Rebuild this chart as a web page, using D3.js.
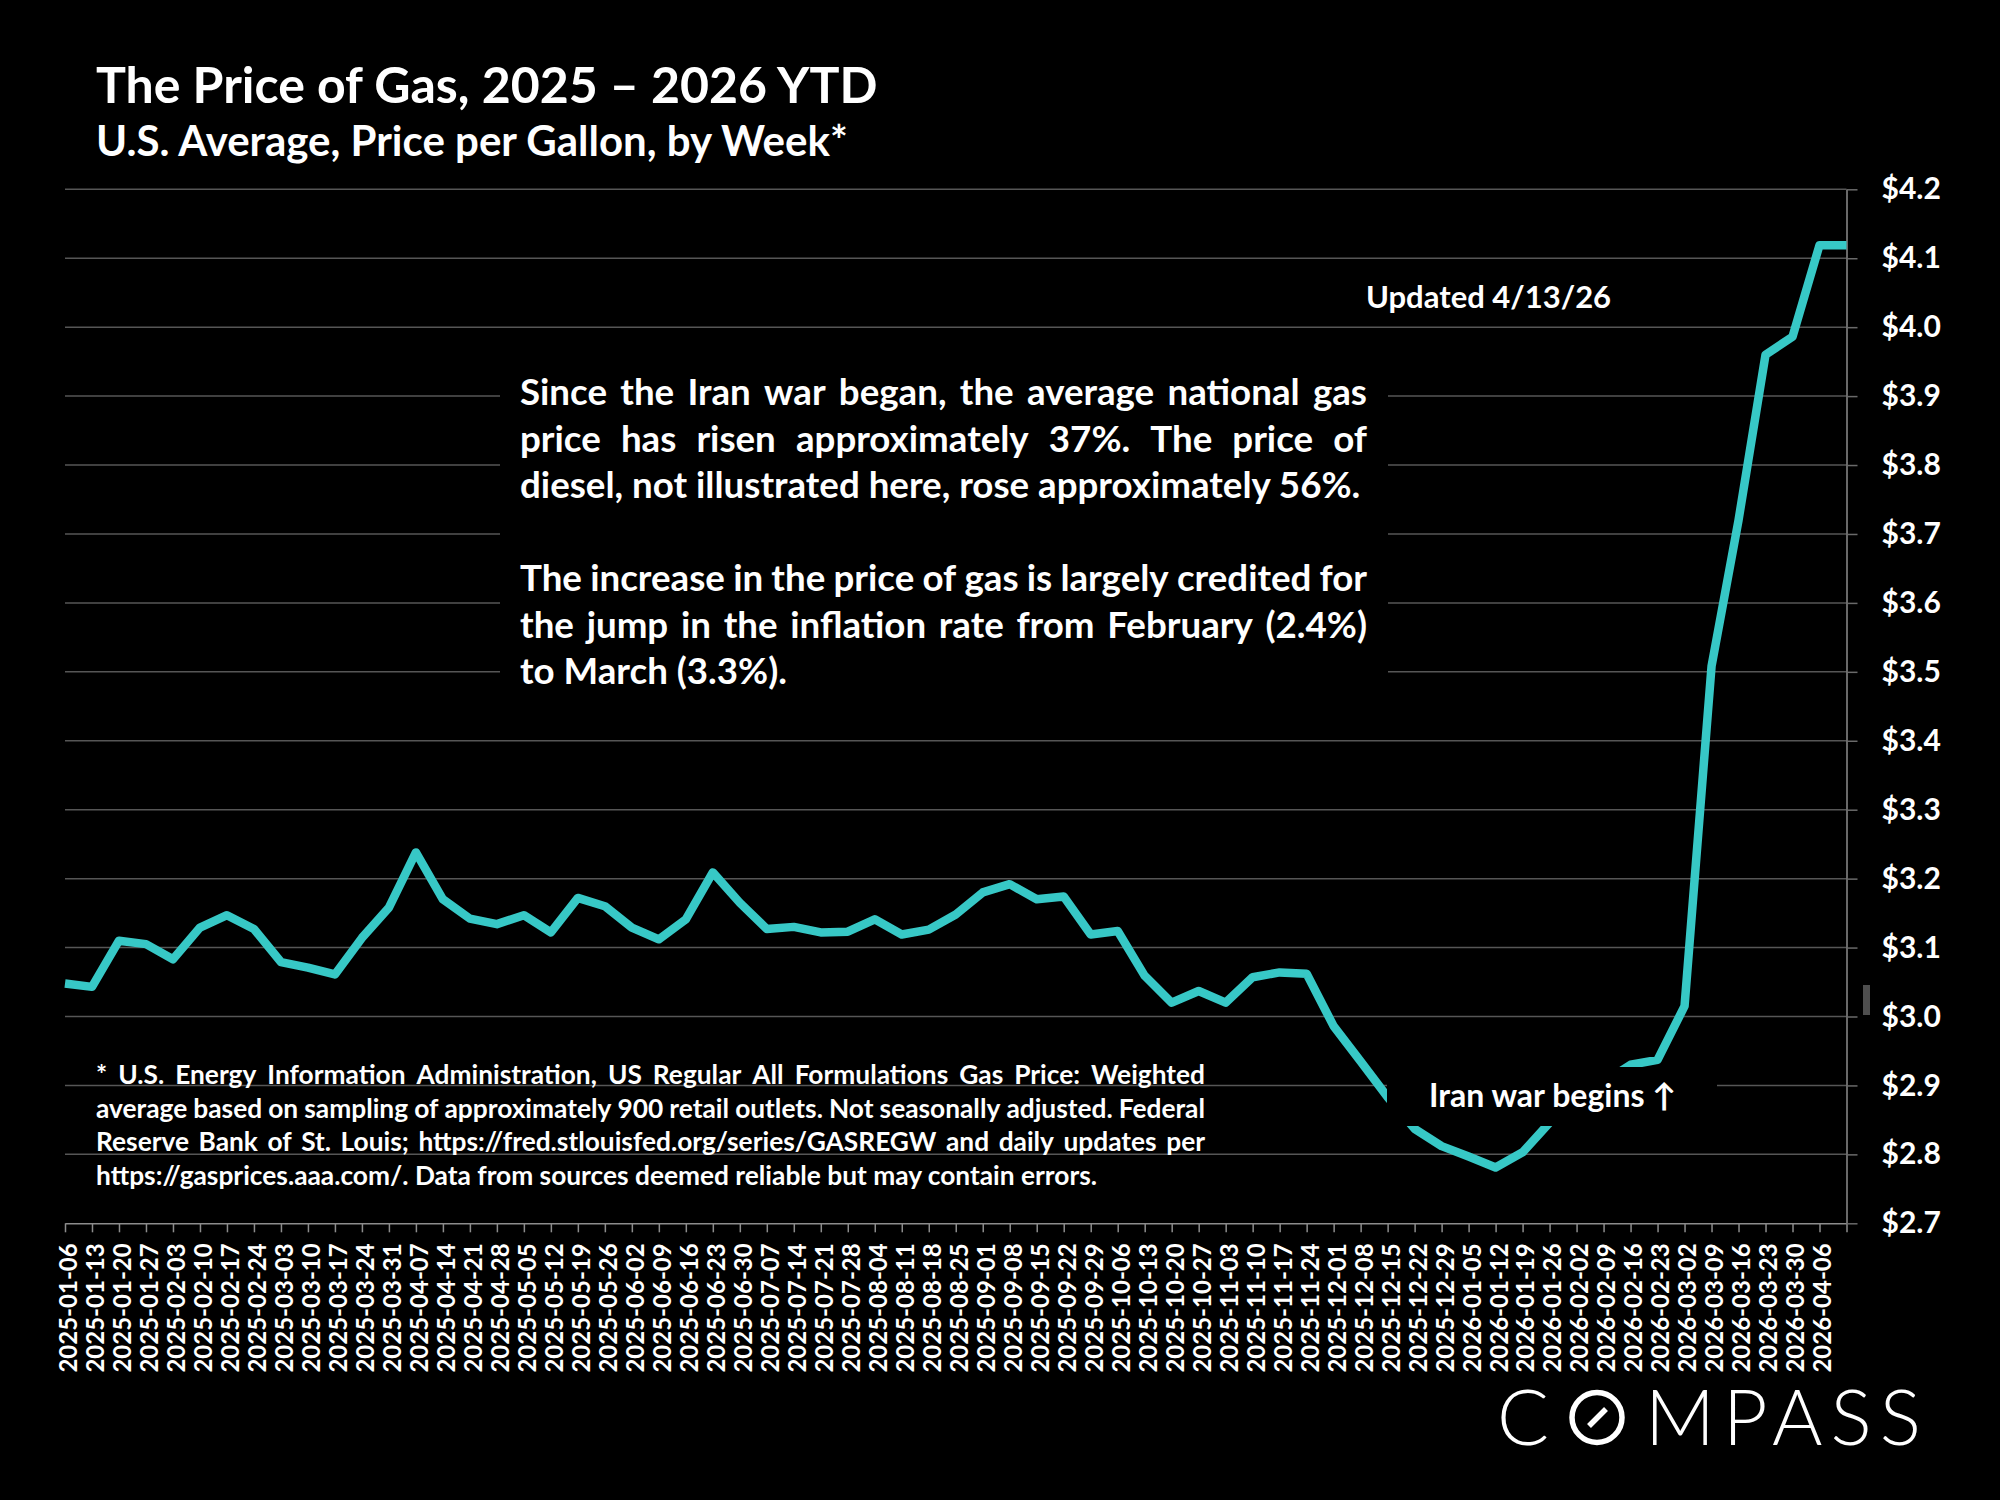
<!DOCTYPE html>
<html>
<head>
<meta charset="utf-8">
<script src="https://cdn.jsdelivr.net/npm/d3@7"></script>
<style>
  html, body { margin: 0; padding: 0; background: #000; }
  svg { display: block; }
  text { font-family: Lato, "Open Sans", sans-serif; fill: #fff; font-weight: bold; }
</style>
</head>
<body>
<svg id="chart" width="2000" height="1500"></svg>
<script>
// weekly US regular gas price
var weeks = [
  "2025-01-06", "2025-01-13", "2025-01-20", "2025-01-27", "2025-02-03", "2025-02-10", "2025-02-17", "2025-02-24",
  "2025-03-03", "2025-03-10", "2025-03-17", "2025-03-24", "2025-03-31", "2025-04-07", "2025-04-14", "2025-04-21",
  "2025-04-28", "2025-05-05", "2025-05-12", "2025-05-19", "2025-05-26", "2025-06-02", "2025-06-09", "2025-06-16",
  "2025-06-23", "2025-06-30", "2025-07-07", "2025-07-14", "2025-07-21", "2025-07-28", "2025-08-04", "2025-08-11",
  "2025-08-18", "2025-08-25", "2025-09-01", "2025-09-08", "2025-09-15", "2025-09-22", "2025-09-29", "2025-10-06",
  "2025-10-13", "2025-10-20", "2025-10-27", "2025-11-03", "2025-11-10", "2025-11-17", "2025-11-24", "2025-12-01",
  "2025-12-08", "2025-12-15", "2025-12-22", "2025-12-29", "2026-01-05", "2026-01-12", "2026-01-19", "2026-01-26",
  "2026-02-02", "2026-02-09", "2026-02-16", "2026-02-23", "2026-03-02", "2026-03-09", "2026-03-16", "2026-03-23",
  "2026-03-30", "2026-04-06", "2026-04-13"
];
var prices = [
  3.048, 3.043, 3.110, 3.105, 3.083, 3.129, 3.147, 3.127,
  3.079, 3.071, 3.061, 3.114, 3.158, 3.238, 3.170, 3.142,
  3.134, 3.147, 3.122, 3.172, 3.160, 3.129, 3.112, 3.141,
  3.209, 3.165, 3.127, 3.130, 3.122, 3.123, 3.141, 3.119,
  3.126, 3.148, 3.180, 3.192, 3.170, 3.174, 3.119, 3.124,
  3.059, 3.020, 3.037, 3.020, 3.057, 3.064, 3.062, 2.986,
  2.935, 2.883, 2.837, 2.812, 2.797, 2.781, 2.803, 2.846,
  2.875, 2.905, 2.930, 2.937, 3.015, 3.508, 3.720, 3.960,
  3.986, 4.119, 4.119
];
// last week has no label on the axis
var unlabeled = ["2026-04-13"];
var yTicks = [2.7, 2.8, 2.9, 3.0, 3.1, 3.2, 3.3, 3.4, 3.5, 3.6, 3.7, 3.8, 3.9, 4.0, 4.1, 4.2];

var title = "The Price of Gas, 2025 \u2013 2026 YTD";
var subtitle = "U.S. Average, Price per Gallon, by Week*";
var updatedNote = "Updated 4/13/26";
var warNote = "Iran war begins \u2191";
var noteParagraphs = [
  ["Since the Iran war began, the average national gas",
   "price has risen approximately 37%. The price of",
   "diesel, not illustrated here, rose approximately 56%."],
  ["The increase in the price of gas is largely credited for",
   "the jump in the inflation rate from February (2.4%)",
   "to March (3.3%)."]
];
var footLines = [
  "* U.S. Energy Information Administration, US Regular All Formulations Gas Price: Weighted",
  "average based on sampling of approximately 900 retail outlets. Not seasonally adjusted. Federal",
  "Reserve Bank of St. Louis; https://fred.stlouisfed.org/series/GASREGW and daily updates per",
  "https://gasprices.aaa.com/. Data from sources deemed reliable but may contain errors."
];

var svg = d3.select("#chart");
var plotLeft = 65, plotRight = 1846.5, plotTop = 189.3, plotBottom = 1223.3;

svg.append("rect").attr("width", 2000).attr("height", 1500).attr("fill", "#000");

var x = d3.scalePoint().domain(weeks).range([plotLeft, plotRight]);
var y = d3.scaleLinear().domain([2.7, 4.2]).range([plotBottom, plotTop]);

// gridlines
svg.append("g")
  .selectAll("line")
  .data(yTicks.slice(1))
  .enter().append("line")
  .attr("x1", plotLeft).attr("x2", plotRight)
  .attr("y1", function (d) { return y(d); })
  .attr("y2", function (d) { return y(d); })
  .attr("stroke", "#565656")
  .attr("stroke-width", 1.5);

// x axis
var xAxis = svg.append("g")
  .attr("transform", "translate(0," + plotBottom + ")")
  .call(d3.axisBottom(x).tickSize(9).tickSizeOuter(0)
    .tickFormat(function (d) { return unlabeled.indexOf(d) >= 0 ? "" : d; }));
xAxis.select(".domain").attr("stroke", "#8c8c8c").attr("stroke-width", 1.5);
xAxis.selectAll(".tick line").attr("stroke", "#8c8c8c").attr("stroke-width", 1.5);
xAxis.selectAll(".tick text")
  .attr("transform", "rotate(-90)")
  .attr("x", -20)
  .attr("y", 3)
  .attr("dy", "0.35em")
  .style("text-anchor", "end")
  .style("font-size", "24px")
  .attr("fill", "#fff");

// y axis on the right
var yAxis = svg.append("g")
  .attr("transform", "translate(" + plotRight + ",0)")
  .call(d3.axisRight(y).tickValues(yTicks).tickSize(11).tickSizeOuter(0).tickPadding(24)
    .tickFormat(function (d) { return "$" + d3.format(".1f")(d); }));
yAxis.select(".domain").attr("stroke", "#8c8c8c").attr("stroke-width", 1.5);
yAxis.selectAll(".tick line").attr("stroke", "#6a6a6a").attr("stroke-width", 1.5);
yAxis.selectAll(".tick text")
  .style("font-size", "30px")
  .attr("fill", "#fff");

// price line
var line = d3.line()
  .x(function (d, i) { return x(weeks[i]); })
  .y(function (d) { return y(d); });

svg.append("path")
  .datum(prices)
  .attr("fill", "none")
  .attr("stroke", "#37c8c6")
  .attr("stroke-width", 8.5)
  .attr("stroke-linejoin", "round")
  .attr("d", line);

// text boxes with black fill cover the grid / line
svg.append("rect").attr("x", 500).attr("y", 355).attr("width", 888).attr("height", 350).attr("fill", "#000");
svg.append("rect").attr("x", 1387).attr("y", 1067).attr("width", 330).attr("height", 59).attr("fill", "#000");

// small grey mark next to the $3.0 label
svg.append("rect").attr("x", 1863).attr("y", 985).attr("width", 7).attr("height", 30).attr("fill", "#4e4e4e");

// titles
svg.append("text").attr("x", 96).attr("y", 103).style("font-size", "50px").text(title);
svg.append("text").attr("x", 96).attr("y", 156).style("font-size", "42px").text(subtitle);

svg.append("text").attr("x", 1366).attr("y", 308).style("font-size", "31px").text(updatedNote);
svg.append("text").attr("x", 1429).attr("y", 1107).style("font-size", "32px").text(warNote);

// justified text blocks
function justified(g, lines, x0, x1, y0, lineH, size) {
  lines.forEach(function (ln, k) {
    var yy = y0 + k * lineH;
    if (k === lines.length - 1) {
      g.append("text").attr("x", x0).attr("y", yy).style("font-size", size + "px").text(ln);
      return;
    }
    var words = ln.split(" ");
    var nodes = words.map(function (w) {
      return g.append("text").attr("y", yy).style("font-size", size + "px").text(w);
    });
    var total = d3.sum(nodes, function (n) { return n.node().getComputedTextLength(); });
    var gap = (x1 - x0 - total) / (words.length - 1);
    var xx = x0;
    nodes.forEach(function (n) {
      n.attr("x", xx);
      xx += n.node().getComputedTextLength() + gap;
    });
  });
}

var noteG = svg.append("g");
justified(noteG, noteParagraphs[0], 520, 1367, 405, 46.5, 36.7);
justified(noteG, noteParagraphs[1], 520, 1367, 405 + 4 * 46.5, 46.5, 36.7);

var footG = svg.append("g");
justified(footG, footLines, 96, 1205, 1084, 33.5, 26.3);

// compass wordmark
var logo = svg.append("g");
logo.append("text").attr("x", 1497).attr("y", 1445).style("font-size", "77px").style("font-weight", 300).text("C");
logo.append("circle").attr("cx", 1597).attr("cy", 1417.5).attr("r", 25)
  .attr("fill", "none").attr("stroke", "#fff").attr("stroke-width", 5.5);
logo.append("line").attr("x1", 1589).attr("y1", 1426).attr("x2", 1606).attr("y2", 1409)
  .attr("stroke", "#fff").attr("stroke-width", 5.5);
logo.append("text").attr("x", 1645).attr("y", 1445).style("font-size", "77px").style("font-weight", 300)
  .attr("textLength", 276).attr("lengthAdjust", "spacing").text("MPASS");
</script>
</body>
</html>
